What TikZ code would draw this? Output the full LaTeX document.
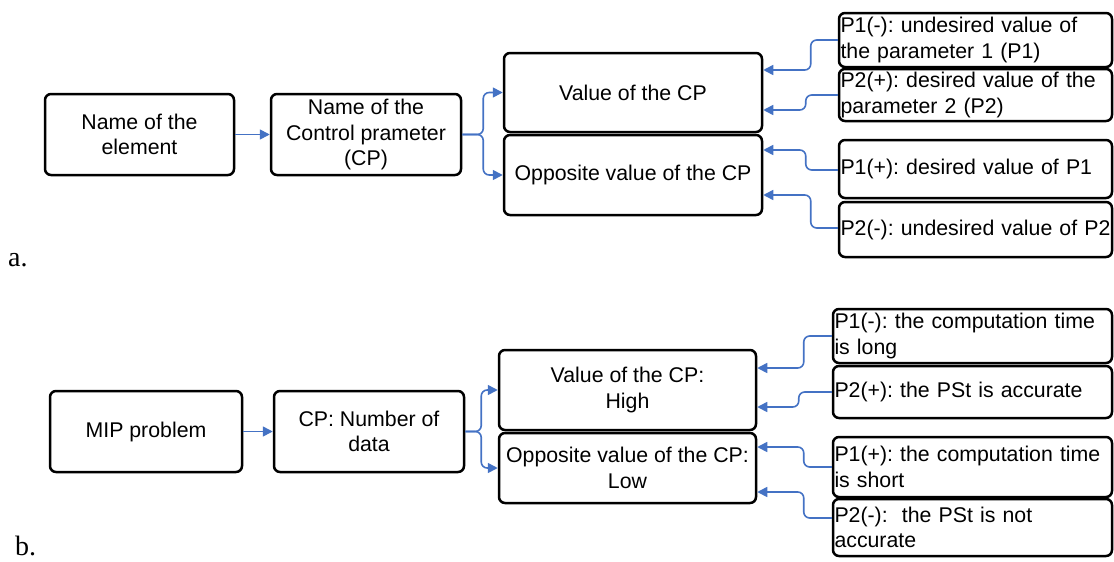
\documentclass[tikz,border=0pt]{standalone}
\usepackage{fontspec}
\setmainfont{Liberation Sans}
\newfontfamily\labfont{Liberation Serif}
\usetikzlibrary{arrows.meta}
\definecolor{connblue}{RGB}{68,114,196}
\frenchspacing
\tikzset{
  box/.style={draw=black, line width=2.5pt, rounded corners=6pt, inner sep=1.5pt,
    align=center, font=\fontsize{21.3}{25.6}\selectfont\frenchspacing},
  pbox/.style={box, align=left, anchor=center},
  conn/.style={draw=connblue, line width=1.6pt, rounded corners=6pt,
    -{Triangle[length=10pt,width=10pt]}},
  lab/.style={font=\labfont\fontsize{28}{30}\selectfont, anchor=base west, inner sep=0pt}
}
\begin{document}
\begin{tikzpicture}[x=1pt,y=-1pt]
\useasboundingbox (0,0) rectangle (1114,562);
% ---------- part a ----------
\node[box, minimum width=189pt, minimum height=81pt] (A1) at (139.5,134.5) {Name of the\\element};
\node[box, minimum width=190pt, minimum height=81pt] (A2) at (366,134.5) {Name of the\\Control prameter\\(CP)};
\node[box, minimum width=258pt, minimum height=79pt] (A3) at (633,92.5) {Value of the CP};
\node[box, minimum width=258pt, minimum height=80pt] (A4) at (633,175) {Opposite value of the CP};
\node[pbox, text width=270pt, minimum height=54pt] (P1m) at (975.5,40) {P1(-): undesired value of\\the parameter 1 (P1)};
\node[pbox, text width=270pt, minimum height=52pt] (P2p) at (975.5,95) {P2(+): desired value of the\\parameter 2 (P2)};
\node[pbox, text width=270pt, minimum height=58pt] (P1p) at (975.5,169) {P1(+): desired value of P1};
\node[pbox, text width=270pt, minimum height=55pt] (P2m) at (975.5,229.5) {P2(-): undesired value of P2};
\node[lab] (la) at (8,266) {a.};
\draw[conn] (A1) -- (A2);
\draw[conn] (A2.east) -- ++(21,0) |- (A3.west);
\draw[conn] (A2.east) -- ++(21,0) |- (A4.west);
\draw[conn] (P1m.west) -- ++(-27,0) |- ([yshift=22.5pt]A3.east);
\draw[conn] (P2p.west) -- ++(-32,0) |- ([yshift=-17.5pt]A3.east);
\draw[conn] ([yshift=-1pt]P1p.west) -- ++(-32,0) |- ([yshift=25pt]A4.east);
\draw[conn] ([yshift=1.5pt]P2m.west) -- ++(-27,0) |- ([yshift=-20pt]A4.east);
% ---------- part b ----------
\node[box, minimum width=192pt, minimum height=81pt] (B1) at (146,431.5) {MIP problem};
\node[box, minimum width=190pt, minimum height=81pt] (B2) at (369,431.5) {CP: Number of\\data};
\node[box, minimum width=257pt, minimum height=80pt] (B3) at (627.5,390) {Value of the CP:\\High};
\node[box, minimum width=257pt, minimum height=70pt] (B4) at (627.5,468) {Opposite value of the CP:\\Low};
\node[pbox, text width=276pt, minimum height=54pt] (Q1m) at (972.5,336) {P1(-): the computation time\\is long};
\node[pbox, text width=276pt, minimum height=52pt] (Q2p) at (972.5,392) {P2(+): the PSt is accurate};
\node[pbox, text width=276pt, minimum height=60pt] (Q1p) at (972.5,467) {P1(+): the computation time\\is short};
\node[pbox, text width=276pt, minimum height=57pt] (Q2m) at (972.5,527.5) {P2(-):\ \ the PSt is not\\accurate};
\node[lab] (lb) at (15,555) {b.};
\draw[conn] (B1) -- (B2);
\draw[conn] (B2.east) -- ++(16,0) |- (B3.west);
\draw[conn] (B2.east) -- ++(16,0) |- (B4.west);
\draw[conn] (Q1m.west) -- ++(-28,0) |- ([yshift=22pt]B3.east);
\draw[conn] (Q2p.west) -- ++(-33,0) |- ([yshift=-17pt]B3.east);
\draw[conn] (Q1p.west) -- ++(-28,0) |- ([yshift=21pt]B4.east);
\draw[conn] ([yshift=9.5pt]Q2m.west) -- ++(-28,0) |- ([yshift=-24pt]B4.east);
\end{tikzpicture}
\end{document}
